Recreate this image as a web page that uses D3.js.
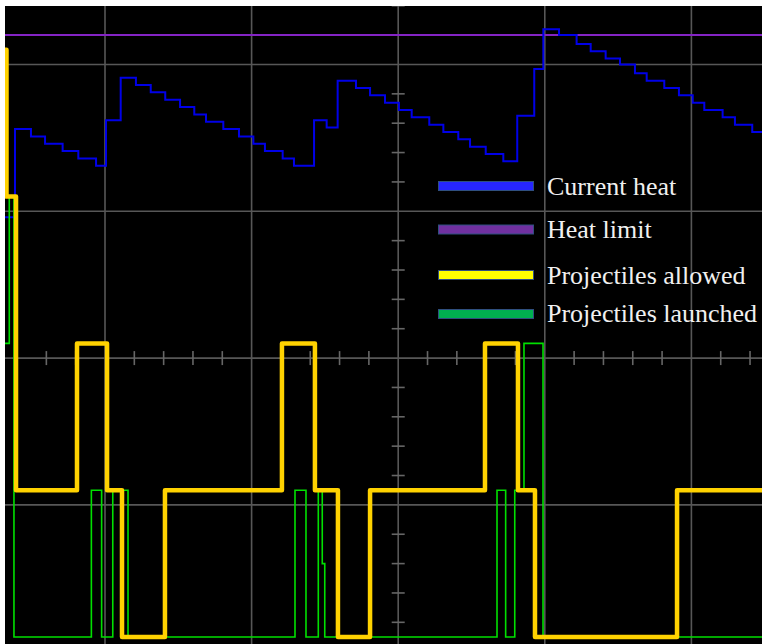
<!DOCTYPE html>
<html>
<head>
<meta charset="utf-8">
<script src="https://cdn.jsdelivr.net/npm/d3@7"></script>
<style>
  html, body { margin: 0; padding: 0; background: #ffffff; }
  svg { display: block; }
</style>
</head>
<body>
<svg id="chart" width="762" height="644"></svg>
<script>
// ---- data (time in 0.1 s ticks, heat in heat units, projectiles as counts) ----
const heatT = [3.0, 3.86, 4.95, 5.91, 7.11, 8.18, 9.39, 10.07, 11.07, 12.11, 13.12, 14.11, 15.12, 16.09, 16.89, 18.07, 19.14, 20.12, 20.91, 22.12, 22.89, 24.26, 25.12, 25.87, 27.12, 28.08, 29.10, 30.05, 30.92, 32.12, 33.08, 34.10, 34.90, 35.97, 37.17, 38.12, 39.28, 39.90, 40.97, 42.17, 43.13, 44.15, 45.13, 46.15, 46.95, 48.15, 49.15, 50.09, 50.88, 52.13, 52.97, 54.15, 55.0];
const heatV = [286, 346, 341, 336, 331, 326, 321, 352, 381, 376, 371, 366, 361, 356, 351, 346, 341, 336, 331, 326, 321, 352, 347, 379, 374, 369, 364, 359, 354, 349, 344, 339, 334, 329, 324, 355, 387, 414, 410, 404, 399, 394, 390, 384, 379, 374, 369, 364, 359, 354, 349, 344, 344];
const heatLimit = 410;

const allowedT = [3.0, 3.28, 3.93, 8.09, 10.14, 11.16, 14.09, 22.07, 24.32, 25.89, 28.08, 35.92, 38.17, 39.33, 49.02, 55.0];
const allowedV = [4, 3, 1, 2, 1, 0, 1, 2, 1, 0, 1, 2, 1, 0, 1, 1];

const launchedT = [3.0, 3.47, 3.79, 9.07, 9.77, 10.53, 11.57, 22.96, 23.71, 24.55, 24.82, 24.99, 36.74, 37.33, 37.95, 38.58, 39.88, 55.0];
const launchedV = [2, 3, 0, 1, 0, 1, 0, 1, 0, 1, 0.5, 0, 1, 0, 1, 2, 0, 0];

// graticule
const gridT = [10, 20, 30, 40, 50];
const gridH = [90, 190, 290, 390];
const axisT = 30, axisH = 190;

const legendLabels = ["Current heat", "Heat limit", "Projectiles allowed", "Projectiles launched"];
const legendColors = ["#2626ff", "#7030a0", "#ffff00", "#00b050"];

// ---- layout ----
const W = 762, H = 644;
const plot = { x: 5, y: 6, w: 757, h: 638 };

const x = d3.scaleLinear().domain([10, 50]).range([105, 691.4]);
const y = d3.scaleLinear().domain([0, 400]).range([637, 49.8]);
const yP = d3.scaleLinear().domain([0, 4]).range([637, 49.8]);

const svg = d3.select("#chart");

svg.append("rect").attr("x", plot.x).attr("y", plot.y)
  .attr("width", plot.w).attr("height", plot.h).attr("fill", "#000");

svg.append("clipPath").attr("id", "clip").append("rect")
  .attr("x", plot.x).attr("y", plot.y).attr("width", plot.w).attr("height", plot.h);

const g = svg.append("g").attr("clip-path", "url(#clip)");

const gridColor = "#575757";
// grid lines
g.selectAll(".gv").data(gridT).join("line")
  .attr("x1", d => x(d)).attr("x2", d => x(d))
  .attr("y1", plot.y).attr("y2", plot.y + plot.h)
  .attr("stroke", gridColor).attr("stroke-width", 1.6);
g.selectAll(".gh").data(gridH).join("line")
  .attr("y1", d => y(d)).attr("y2", d => y(d))
  .attr("x1", plot.x).attr("x2", plot.x + plot.w)
  .attr("stroke", gridColor).attr("stroke-width", 1.6);

// minor ticks on the centre axes
const tickColor = "#666";
const minorT = d3.range(0, 60, 2).filter(d => d % 10 !== 0);
const minorH = d3.range(-30, 450, 20).filter(d => (d - 90) % 100 !== 0);
g.selectAll(".mt").data(minorT).join("line")
  .attr("x1", d => x(d)).attr("x2", d => x(d))
  .attr("y1", y(axisH) - 7).attr("y2", y(axisH) + 7)
  .attr("stroke", tickColor).attr("stroke-width", 1.6);
g.selectAll(".mh").data(minorH).join("line")
  .attr("y1", d => y(d)).attr("y2", d => y(d))
  .attr("x1", x(axisT) - 6.5).attr("x2", x(axisT) + 6.5)
  .attr("stroke", tickColor).attr("stroke-width", 1.6);

// heat limit
g.append("line")
  .attr("x1", plot.x).attr("x2", plot.x + plot.w)
  .attr("y1", y(heatLimit)).attr("y2", y(heatLimit))
  .attr("stroke", "#8424c4").attr("stroke-width", 2);

const stepLine = (sy) => d3.line().x(d => x(d[0])).y(d => sy(d[1])).curve(d3.curveStepAfter);

// current heat
g.append("path").datum(d3.zip(heatT, heatV))
  .attr("d", stepLine(y)).attr("fill", "none")
  .attr("stroke", "#0000e8").attr("stroke-width", 2);

// projectiles launched
g.append("path").datum(d3.zip(launchedT, launchedV))
  .attr("d", stepLine(yP)).attr("fill", "none")
  .attr("stroke", "#00e000").attr("stroke-width", 1.6);

// projectiles allowed
g.append("path").datum(d3.zip(allowedT, allowedV))
  .attr("d", stepLine(yP)).attr("fill", "none")
  .attr("stroke", "#ffd200").attr("stroke-width", 4.5)
  .attr("stroke-linejoin", "round");

// legend
const legendCY = [186, 229.5, 275, 314];
const legendBase = [194.5, 238, 283.5, 322];
const lg = svg.append("g");
legendLabels.forEach((lab, i) => {
  lg.append("rect").attr("x", 438.5).attr("y", legendCY[i] - 4.5)
    .attr("width", 95).attr("height", 9)
    .attr("fill", legendColors[i]).attr("stroke", "#2f4f7f").attr("stroke-width", 1);
  lg.append("text").attr("x", 547).attr("y", legendBase[i])
    .attr("font-family", "'Liberation Serif', 'Times New Roman', serif")
    .attr("font-size", 26).attr("fill", "#f0f0f0").text(lab);
});
</script>
</body>
</html>
